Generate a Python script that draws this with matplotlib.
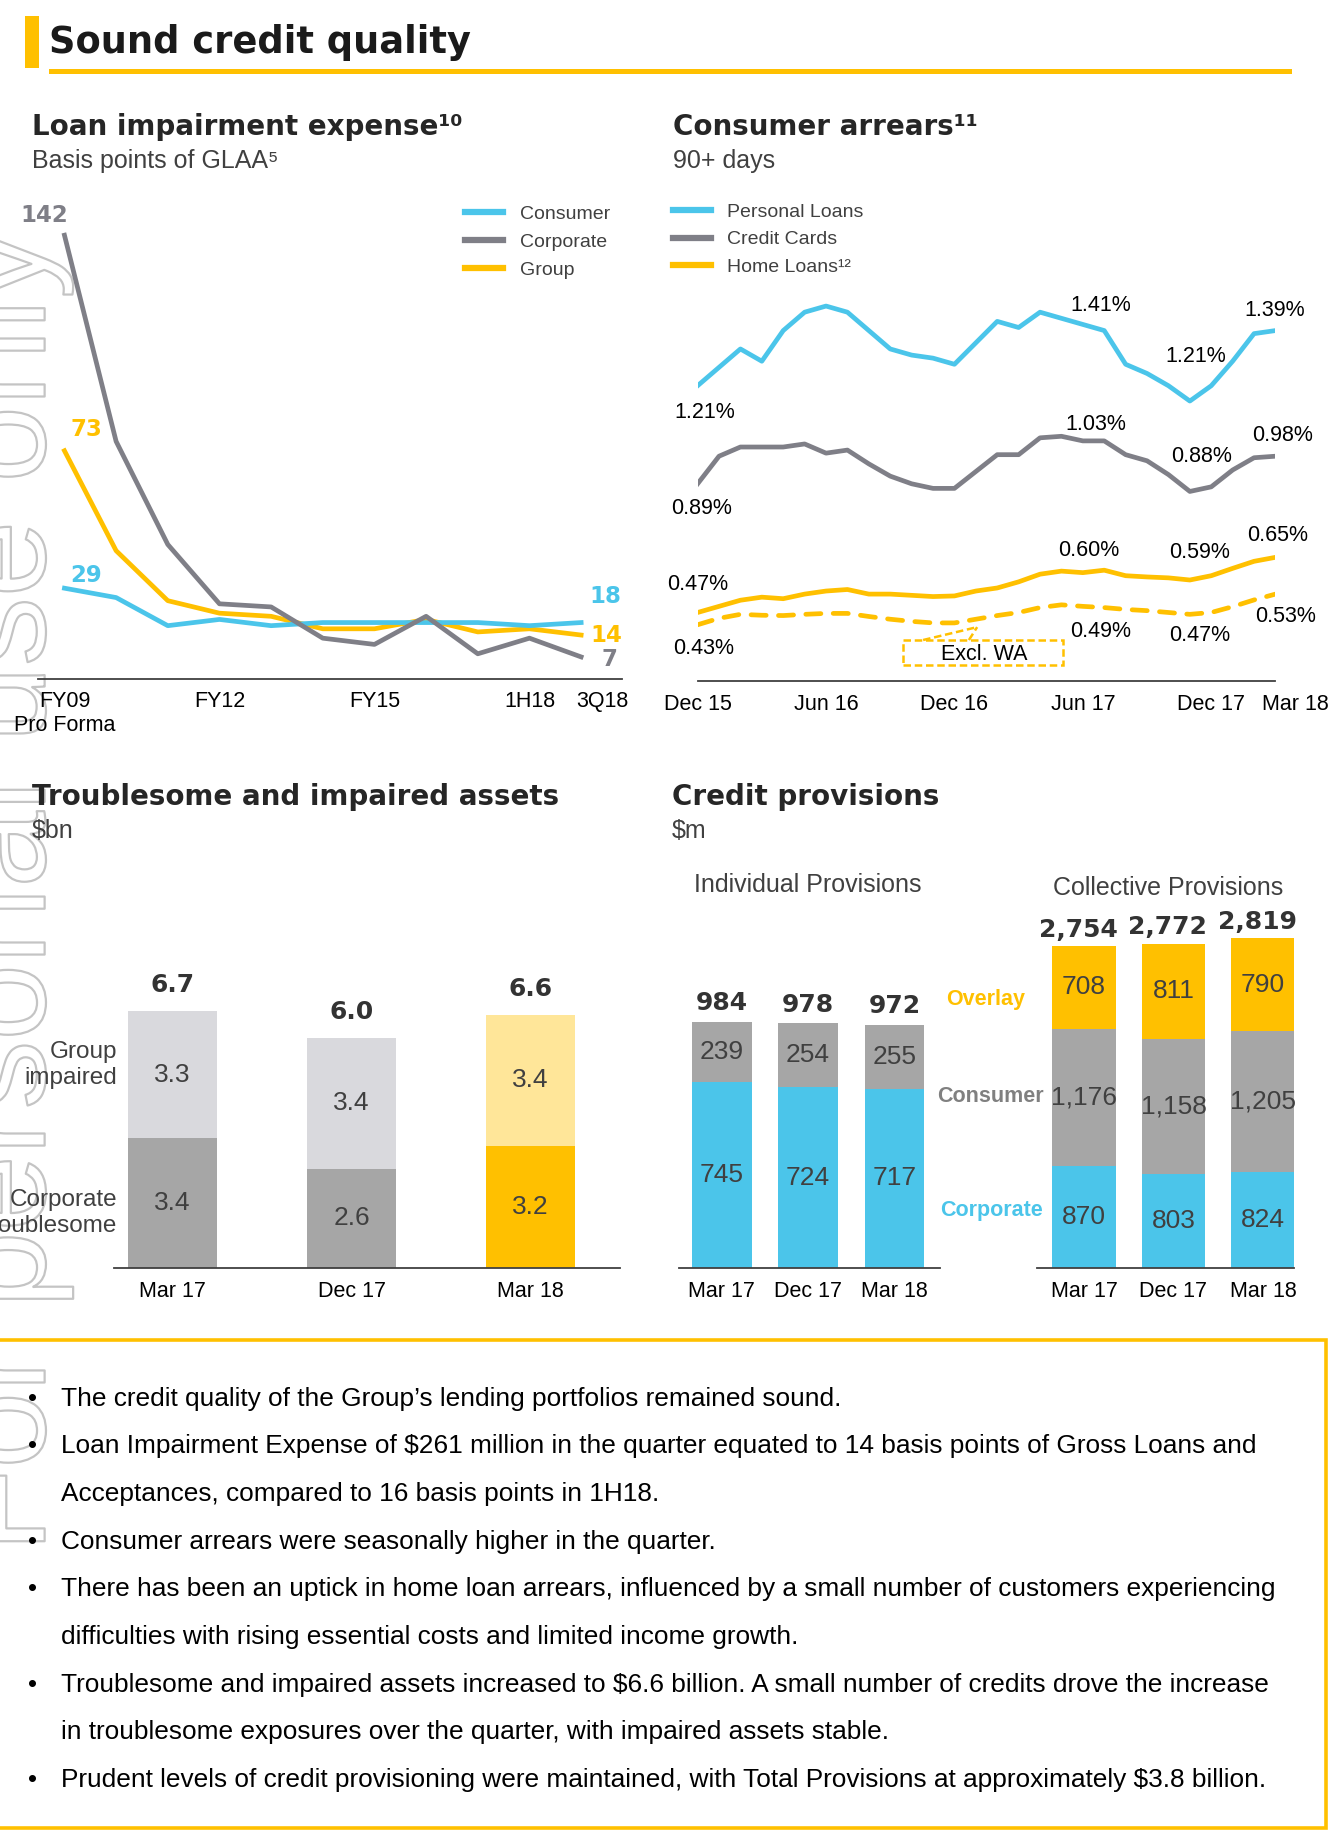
import matplotlib
matplotlib.use('Agg')
import matplotlib.pyplot as plt
from matplotlib.patches import Rectangle
from matplotlib.lines import Line2D
from matplotlib.transforms import ScaledTranslation
import matplotlib.patheffects as pe

plt.rcParams['font.family'] = ['Liberation Sans', 'DejaVu Sans']
plt.rcParams['text.parse_math'] = False

# ---------------- data ----------------
# Loan impairment expense, bps of GLAA
lie_periods = ['FY09', 'FY10', 'FY11', 'FY12', 'FY13', 'FY14', 'FY15', 'FY16', 'FY17', '1H18', '3Q18']
lie_consumer = [29, 26, 17, 19, 17, 18, 18, 18, 18, 17, 18]
lie_corporate = [142, 76, 43, 24, 23, 13, 11, 20, 8, 13, 7]
lie_group = [73, 41, 25, 21, 20, 16, 16, 19, 15, 16, 14]
lie_tick_pos = [0, 3, 6, 9, 10]
lie_tick_labels = ['FY09\nPro Forma', 'FY12', 'FY15', '1H18', '3Q18']

# Consumer arrears 90+ days, monthly Dec 15 .. Mar 18 (%)
personal_loans = [1.21, 1.27, 1.33, 1.29, 1.39, 1.45, 1.47, 1.45, 1.39, 1.33, 1.31, 1.30, 1.28, 1.35,
                  1.42, 1.40, 1.45, 1.43, 1.41, 1.39, 1.28, 1.25, 1.21, 1.16, 1.21, 1.29, 1.38, 1.39]
credit_cards = [0.89, 0.98, 1.01, 1.01, 1.01, 1.02, 0.99, 1.00, 0.955, 0.915, 0.89, 0.875, 0.875, 0.93,
                0.985, 0.985, 1.04, 1.045, 1.03, 1.03, 0.985, 0.965, 0.92, 0.865, 0.88, 0.935, 0.975, 0.98]
home_loans = [0.47, 0.49, 0.51, 0.52, 0.515, 0.53, 0.54, 0.545, 0.53, 0.53, 0.526, 0.522, 0.524, 0.54,
              0.55, 0.57, 0.595, 0.605, 0.60, 0.608, 0.59, 0.586, 0.583, 0.576, 0.59, 0.614, 0.637, 0.65]
home_loans_ex_wa = [0.43, 0.451, 0.464, 0.461, 0.46, 0.464, 0.467, 0.467, 0.457, 0.448, 0.441, 0.436, 0.436, 0.448,
                    0.46, 0.47, 0.486, 0.495, 0.49, 0.486, 0.48, 0.476, 0.47, 0.464, 0.47, 0.489, 0.511, 0.53]
arr_tick_pos = [0, 6, 12, 18, 24, 27]
arr_tick_labels = ['Dec 15', 'Jun 16', 'Dec 16', 'Jun 17', 'Dec 17', 'Mar 18']

# Troublesome and impaired assets, $bn
tia_periods = ['Mar 17', 'Dec 17', 'Mar 18']
tia_troublesome = [3.4, 2.6, 3.2]
tia_impaired = [3.3, 3.4, 3.4]

# Credit provisions, $m
prov_periods = ['Mar 17', 'Dec 17', 'Mar 18']
ind_corporate = [745, 724, 717]
ind_consumer = [239, 254, 255]
col_corporate = [870, 803, 824]
col_consumer = [1176, 1158, 1205]
col_overlay = [708, 811, 790]

bullets = [
    ["The credit quality of the Group\u2019s lending portfolios remained sound."],
    ["Loan Impairment Expense of $261 million in the quarter equated to 14 basis points of Gross Loans and",
     "Acceptances, compared to 16 basis points in 1H18."],
    ["Consumer arrears were seasonally higher in the quarter."],
    ["There has been an uptick in home loan arrears, influenced by a small number of customers experiencing",
     "difficulties with rising essential costs and limited income growth."],
    ["Troublesome and impaired assets increased to $6.6 billion. A small number of credits drove the increase",
     "in troublesome exposures over the quarter, with impaired assets stable."],
    ["Prudent levels of credit provisioning were maintained, with Total Provisions at approximately $3.8 billion."],
]

YELLOW = '#FFC000'
BLUE = '#4BC5EA'
GREY_LINE = '#7F7F87'
GREY_BAR = '#A6A6A6'
LIGHT_GREY = '#D9D9DD'
LIGHT_YELLOW = '#FFE699'
DARK = '#262626'
MID = '#404040'

# layout helpers (coordinates measured on a 1135 x 1562 grid)
W, H = 1135.0, 1561.7
S = 1333.0 / W  # grid px -> output px


def fx(x):
    return x / W


def fy(y):
    return 1 - y / H


def add_ax(x0, y0, x1, y1):
    a = fig.add_axes([fx(x0), fy(y1), fx(x1) - fx(x0), fy(y0) - fy(y1)])
    a.patch.set_visible(False)
    for s in ['top', 'right', 'left']:
        a.spines[s].set_visible(False)
    a.spines['bottom'].set_color(MID)
    a.spines['bottom'].set_linewidth(1.3)
    a.set_yticks([])
    a.tick_params(axis='x', length=0, pad=9, labelsize=15.5, labelcolor='black')
    return a


def off(dx, dy):
    # grid px offset (dy positive = down) -> offset points
    return (dx * S * 0.72, -dy * S * 0.72)


def shift_label(lbl, dx):
    lbl.set_transform(lbl.get_transform() + ScaledTranslation(dx * S / 100, 0, fig.dpi_scale_trans))


fig = plt.figure(figsize=(13.33, 18.34), dpi=100)

# watermark
fig.text(fx(38), fy(1322), 'For personal use only', rotation=90, rotation_mode='anchor',
         ha='left', va='baseline', fontsize=99, color='white', zorder=-5,
         path_effects=[pe.Stroke(linewidth=1.6, foreground='#C4C4C4')])

# header
fig.add_artist(Rectangle((fx(21), fy(58)), fx(12), fy(14) - fy(58), transform=fig.transFigure,
                         fc=YELLOW, ec='none'))
fig.add_artist(Rectangle((fx(42), fy(63)), fx(1100) - fx(42), fy(59) - fy(63), transform=fig.transFigure,
                         fc=YELLOW, ec='none'))
fig.text(fx(42), fy(36), 'Sound credit quality', family='DejaVu Sans', fontweight='bold',
         fontsize=26.5, color='#1A1A1A', va='center')

# section titles
for x, y, t, sub in [(27, 108, 'Loan impairment expense\u00b9\u2070', 'Basis points of GLAA\u2075'),
                     (573, 108, 'Consumer arrears\u00b9\u00b9', '90+ days'),
                     (27, 679, 'Troublesome and impaired assets', '$bn'),
                     (572, 679, 'Credit provisions', '$m')]:
    fig.text(fx(x), fy(y), t, family='DejaVu Sans', fontweight='bold', fontsize=20,
             color=DARK, va='center')
    fig.text(fx(x), fy(y + 29), sub, fontsize=18, color=MID, va='center')

# ---- Loan impairment expense ----
ax1 = add_ax(32, 179, 530, 578)
xs = list(range(len(lie_periods)))
ax1.plot(xs, lie_group, color=YELLOW, lw=3.4, solid_joinstyle='round', label='Group')
ax1.plot(xs, lie_consumer, color=BLUE, lw=3.4, solid_joinstyle='round', label='Consumer')
ax1.plot(xs, lie_corporate, color=GREY_LINE, lw=3.4, solid_joinstyle='round', label='Corporate')
ax1.set_xlim(-0.52, 10.8)
ax1.set_ylim(0, 150)
ax1.set_xticks(lie_tick_pos)
ax1.set_xticklabels(lie_tick_labels, linespacing=1.15)
shift_label(ax1.get_xticklabels()[-1], 18)

h = [Line2D([], [], color=c, lw=4.5) for c in [BLUE, GREY_LINE, YELLOW]]
leg = ax1.legend(h, ['Consumer', 'Corporate', 'Group'], loc='upper left',
                 bbox_to_anchor=(fx(396), fy(175)), bbox_transform=fig.transFigure,
                 frameon=False, fontsize=14, handlelength=1.95, handletextpad=0.85,
                 labelspacing=0.52, borderpad=0, borderaxespad=0)
for t in leg.get_texts():
    t.set_color(MID)

for i, series, txt, col, dx, dy in [(0, lie_corporate, '142', GREY_LINE, -17.5, -17),
                                    (0, lie_group, '73', YELLOW, 18.5, -18),
                                    (0, lie_consumer, '29', BLUE, 18.5, -11),
                                    (10, lie_consumer, '18', BLUE, 20.5, -22),
                                    (10, lie_group, '14', YELLOW, 21.5, 0),
                                    (10, lie_corporate, '7', GREY_LINE, 24.5, 2)]:
    ax1.annotate(txt, (i, series[i]), xytext=off(dx, dy), textcoords='offset points',
                 ha='center', va='center', family='DejaVu Sans', fontweight='bold',
                 fontsize=16.5, color=col, annotation_clip=False)

# ---- Consumer arrears ----
ax2 = add_ax(594, 240, 1086, 580)
mx = list(range(len(personal_loans)))
ax2.plot(mx, home_loans_ex_wa, color=YELLOW, lw=3.4, dashes=(3.2, 2.6), dash_capstyle='round')
ax2.plot(mx, home_loans, color=YELLOW, lw=3.4, solid_joinstyle='round')
ax2.plot(mx, credit_cards, color=GREY_LINE, lw=3.4, solid_joinstyle='round')
ax2.plot(mx, personal_loans, color=BLUE, lw=3.4, solid_joinstyle='round')
ax2.set_xlim(0, 27)
ax2.set_ylim(0.246, 1.549)
ax2.set_xticks(arr_tick_pos)
ax2.set_xticklabels(arr_tick_labels)
shift_label(ax2.get_xticklabels()[-1], 17)

h = [Line2D([], [], color=c, lw=4.5) for c in [BLUE, GREY_LINE, YELLOW]]
leg2 = ax2.legend(h, ['Personal Loans', 'Credit Cards', 'Home Loans\u00b9\u00b2'], loc='upper left',
                  bbox_to_anchor=(fx(573), fy(173)), bbox_transform=fig.transFigure,
                  frameon=False, fontsize=14, handlelength=1.95, handletextpad=0.85,
                  labelspacing=0.52, borderpad=0, borderaxespad=0)
for t in leg2.get_texts():
    t.set_color(MID)

pct_labels = [(0, personal_loans, 6, 22.5), (18, personal_loans, 15, -16),
              (24, personal_loans, -13, -25), (27, personal_loans, -1, -17),
              (0, credit_cards, 3, 21), (18, credit_cards, 11, -14),
              (24, credit_cards, -8, -26), (27, credit_cards, 6, -17.5),
              (0, home_loans, 0, -23.5), (18, home_loans, 5, -19),
              (24, home_loans, -10, -19.5), (27, home_loans, 2, -18.6),
              (0, home_loans_ex_wa, 5, 20), (18, home_loans_ex_wa, 15, 21),
              (24, home_loans_ex_wa, -10, 20), (27, home_loans_ex_wa, 9, 19)]
for i, series, dx, dy in pct_labels:
    ax2.annotate(f'{series[i]:.2f}%', (i, series[i]), xytext=off(dx, dy), textcoords='offset points',
                 ha='center', va='center', fontsize=15.5, color='black', annotation_clip=False)

# Excl. WA callout
fig.add_artist(Rectangle((fx(769), fy(566)), fx(905) - fx(769), fy(545) - fy(566),
                         transform=fig.transFigure, fc='none', ec=YELLOW, lw=1.8, ls=(0, (3, 1.5))))
for x0 in [786, 825]:
    fig.add_artist(Line2D([fx(x0), fx(832)], [fy(545), fy(534)], transform=fig.transFigure,
                          color=YELLOW, lw=1.8, ls=(0, (3, 1.5))))
fig.text(fx(838), fy(557), 'Excl. WA', fontsize=15.5, ha='center', va='center', color='black')

# ---- Troublesome and impaired assets ----
ax3 = add_ax(97, 835, 528, 1080)
bx = list(range(len(tia_periods)))
bottom_cols = [GREY_BAR, GREY_BAR, YELLOW]
top_cols = [LIGHT_GREY, LIGHT_GREY, LIGHT_YELLOW]
ax3.bar(bx, tia_troublesome, width=0.5, color=bottom_cols)
ax3.bar(bx, tia_impaired, width=0.5, bottom=tia_troublesome, color=top_cols)
ax3.set_xlim(-0.328, 2.5)
ax3.set_ylim(0, 7.5)
ax3.set_xticks(bx)
ax3.set_xticklabels(tia_periods)
for i in bx:
    ax3.text(i, tia_troublesome[i] / 2, f'{tia_troublesome[i]:.1f}', ha='center', va='center',
             fontsize=19, color=MID)
    ax3.text(i, tia_troublesome[i] + tia_impaired[i] / 2, f'{tia_impaired[i]:.1f}', ha='center',
             va='center', fontsize=19, color=MID)
    tot = tia_troublesome[i] + tia_impaired[i]
    ax3.annotate(f'{tot:.1f}', (i, tot), xytext=off(0, -22), textcoords='offset points',
                 ha='center', va='center', family='DejaVu Sans', fontweight='bold',
                 fontsize=18, color='#333333', annotation_clip=False)
fig.text(fx(100), fy(907), 'Group\nimpaired', ha='right', va='center', multialignment='right',
         fontsize=17.5, color=MID, linespacing=1.2)
fig.text(fx(100), fy(1033), 'Corporate\ntroublesome', ha='right', va='center', multialignment='right',
         fontsize=17.5, color=MID, linespacing=1.2)

# ---- Credit provisions: individual ----
ax4 = add_ax(578, 824, 800, 1080)
px = list(range(len(prov_periods)))
ax4.bar(px, ind_corporate, width=0.69, color=BLUE)
ax4.bar(px, ind_consumer, width=0.69, bottom=ind_corporate, color=GREY_BAR)
ax4.set_xlim(-0.497, 2.524)
ax4.set_ylim(0, 1200)
ax4.set_xticks(px)
ax4.set_xticklabels(prov_periods)
for i in px:
    ax4.text(i, ind_corporate[i] / 2, f'{ind_corporate[i]:,}', ha='center', va='center',
             fontsize=19, color=MID)
    ax4.text(i, ind_corporate[i] + ind_consumer[i] / 2, f'{ind_consumer[i]:,}', ha='center',
             va='center', fontsize=19, color=MID)
    tot = ind_corporate[i] + ind_consumer[i]
    ax4.annotate(f'{tot:,}', (i, tot), xytext=off(0, -16), textcoords='offset points',
                 ha='center', va='center', family='DejaVu Sans', fontweight='bold',
                 fontsize=18, color='#333333', annotation_clip=False)

# ---- Credit provisions: collective ----
ax5 = add_ax(883, 781, 1102, 1080)
ax5.bar(px, col_corporate, width=0.71, color=BLUE)
ax5.bar(px, col_consumer, width=0.71, bottom=col_corporate, color=GREY_BAR)
low = [a + b for a, b in zip(col_corporate, col_consumer)]
ax5.bar(px, col_overlay, width=0.71, bottom=low, color=YELLOW)
ax5.set_xlim(-0.525, 2.35)
ax5.set_ylim(0, 3000)
ax5.set_xticks(px)
ax5.set_xticklabels(prov_periods)
for i in px:
    ax5.text(i, col_corporate[i] / 2, f'{col_corporate[i]:,}', ha='center', va='center',
             fontsize=19, color=MID)
    ax5.text(i, col_corporate[i] + col_consumer[i] / 2, f'{col_consumer[i]:,}', ha='center',
             va='center', fontsize=19, color=MID)
    ax5.text(i, low[i] + col_overlay[i] / 2, f'{col_overlay[i]:,}', ha='center', va='center',
             fontsize=19, color=MID)
    tot = low[i] + col_overlay[i]
    ax5.annotate(f'{tot:,}', (i, tot), xytext=off(-5, -14), textcoords='offset points',
                 ha='center', va='center', family='DejaVu Sans', fontweight='bold',
                 fontsize=18, color='#333333', annotation_clip=False)

fig.text(fx(688), fy(754), 'Individual Provisions', ha='center', va='center', fontsize=18, color=MID)
fig.text(fx(994.5), fy(756), 'Collective Provisions', ha='center', va='center', fontsize=18, color=MID)
fig.text(fx(839), fy(851), 'Overlay', ha='center', va='center', fontsize=15.5, fontweight='bold', color=YELLOW)
fig.text(fx(843.5), fy(934), 'Consumer', ha='center', va='center', fontsize=15.5, fontweight='bold', color='#808080')
fig.text(fx(844.5), fy(1031), 'Corporate', ha='center', va='center', fontsize=15.5, fontweight='bold', color=BLUE)

# ---- commentary box ----
fig.add_artist(Rectangle((-0.01, fy(1557)), fx(1129) + 0.01, fy(1141) - fy(1557),
                         transform=fig.transFigure, fc='none', ec=YELLOW, lw=2.6))
y = 1191
for lines in bullets:
    fig.text(fx(28), fy(y), '\u2022', ha='center', va='center', fontsize=18.5, color='black')
    for line in lines:
        fig.text(fx(52), fy(y), line, ha='left', va='center', fontsize=18.9, color='black')
        y += 40.6

fig.savefig('out.png', dpi=100)
